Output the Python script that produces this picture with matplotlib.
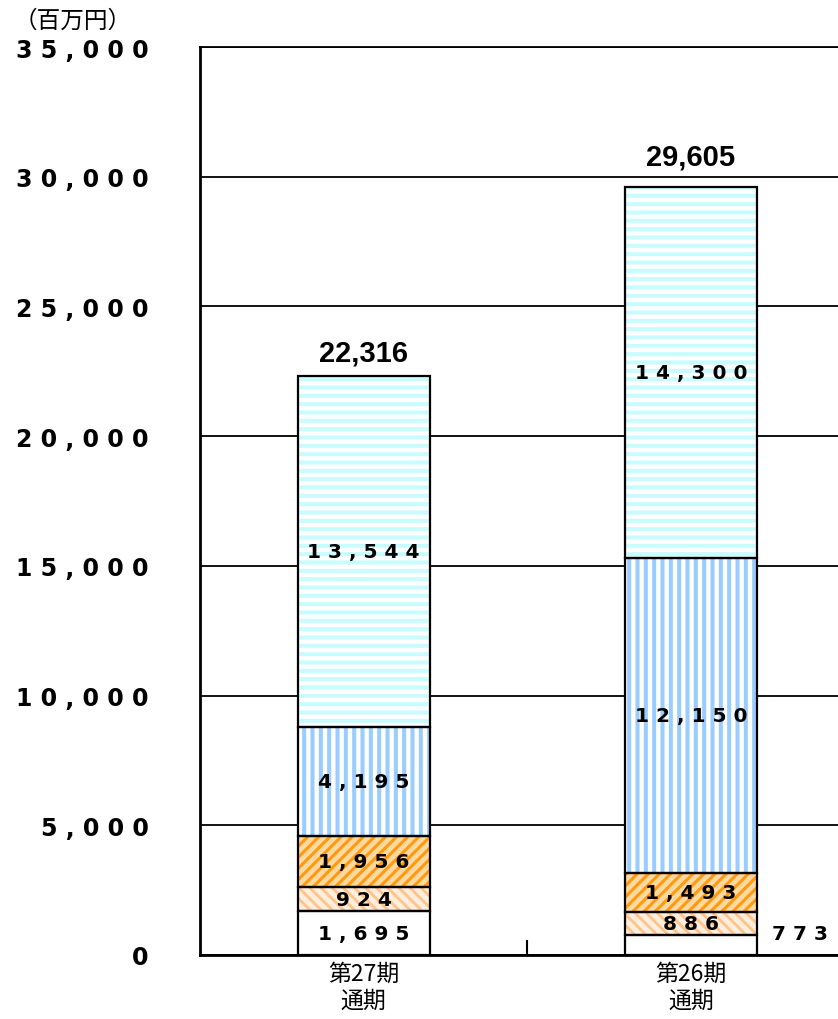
import matplotlib
matplotlib.use("Agg")
import matplotlib.pyplot as plt
from matplotlib.ticker import FixedLocator

# ---- data ----
categories = ["第27期\n通期", "第26期\n通期"]
seg_other = [1695, 773]      # white
seg_peach = [924, 886]       # light orange, back-hatched
seg_orange = [1956, 1493]    # orange, forward-hatched
seg_blue = [4195, 12150]     # light blue, vertical stripes
seg_cyan = [13544, 14300]    # light cyan, horizontal stripes
totals = [22316, 29605]
yticks = [0, 5000, 10000, 15000, 20000, 25000, 30000, 35000]
unit_label = "（百万円）"

series = [seg_other, seg_peach, seg_orange, seg_blue, seg_cyan]
styles = [
    dict(face="#FFFFFF", hcol=None, hatch=None, hlw=0),
    dict(face="#FFEEDD", hcol="#FFC48A", hatch="\\\\\\", hlw=2.0),
    dict(face="#FFD9A0", hcol="#FF9A10", hatch="///", hlw=2.2),
    dict(face="#FFFFFF", hcol="#99CCFF", hatch="||", hlw=2.9),
    dict(face="#FFFFFF", hcol="#C8FCFF", hatch="--", hlw=2.9),
]

W, H = 838, 1020
fig = plt.figure(figsize=(W / 100, H / 100), dpi=100)
ax = fig.add_axes([200 / W, 64 / H, 654.5 / W, 908 / H])

x = list(range(len(categories)))
bw = 0.404


def spaced(s):
    return " ".join(list(s))


bottoms = [0] * len(x)
for vals, st in zip(series, styles):
    ax.bar(x, vals, bw, bottom=bottoms, color=st["face"], edgecolor="none",
           linewidth=0, zorder=2)
    if st["hatch"]:
        if not hasattr(matplotlib.patches.Patch, "set_hatch_linewidth"):
            plt.rcParams["hatch.linewidth"] = st["hlw"]
        hb = ax.bar(x, vals, bw, bottom=bottoms, color="none",
                    edgecolor=st["hcol"], hatch=st["hatch"], linewidth=0,
                    zorder=3)
        for p in hb:
            if hasattr(p, "set_hatch_linewidth"):
                p.set_hatch_linewidth(st["hlw"])
    ax.bar(x, vals, bw, bottom=bottoms, fill=False, edgecolor="black",
           linewidth=1.6, zorder=4)
    bottoms = [b + v for b, v in zip(bottoms, vals)]

# segment labels
lab_font = dict(family="DejaVu Sans", fontweight="bold", fontsize=14.5,
                color="black", zorder=6)
for i in x:
    b = 0
    for j, vals in enumerate(series):
        v = vals[i]
        txt = spaced(f"{v:,}")
        if j == 0 and v < 1000:
            ax.text(i + 0.333, 810, txt, ha="center", va="center", **lab_font)
        else:
            ax.text(i, b + v / 2, txt, ha="center", va="center", **lab_font)
        b += v

# totals
tot_offsets = [925, 1195]
for i, t in enumerate(totals):
    ax.text(i, bottoms[i] + tot_offsets[i], f"{t:,}", ha="center", va="center",
            family="Liberation Sans", fontweight="bold", fontsize=21, zorder=6)

ax.set_xlim(-0.5, len(categories) - 0.5)
ax.set_ylim(0, 35000)
ax.set_yticks(yticks)
ax.set_yticklabels([spaced(f"{v:,}") for v in yticks], family="DejaVu Sans",
                   fontweight="bold", fontsize=17)
ax.tick_params(axis="y", length=0, pad=37)
ax.yaxis.grid(True, color="black", linewidth=1.3, zorder=0)
ax.set_axisbelow(True)

ax.set_xticks(x)
ax.set_xticklabels(categories, family=["Noto Sans CJK JP", "DejaVu Sans"],
                   fontsize=16.5, linespacing=1.2)
ax.tick_params(axis="x", which="major", length=0, pad=5)
ax.xaxis.set_minor_locator(FixedLocator([0.5]))
ax.tick_params(axis="x", which="minor", direction="in", length=11, width=1.5,
               color="black")

for s in ["left", "bottom"]:
    ax.spines[s].set_linewidth(2)
    ax.spines[s].set_color("black")
ax.spines["top"].set_linewidth(1.3)
ax.spines["right"].set_visible(False)

fig.text(14 / W, 1 - 21 / H, unit_label, ha="left", va="center",
         family=["Noto Sans CJK JP", "DejaVu Sans"], fontsize=17)

fig.savefig("out.png", dpi=100)
